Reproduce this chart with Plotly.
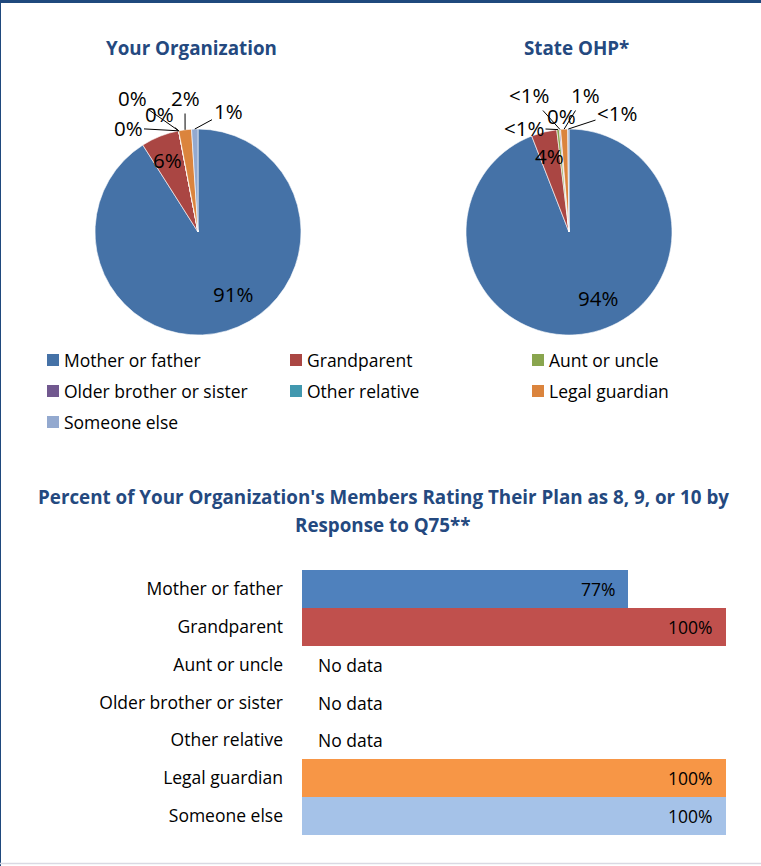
import math
import plotly.graph_objects as go

W, H = 761, 866

# ---- data -------------------------------------------------------------
categories = ["Mother or father", "Grandparent", "Aunt or uncle",
              "Older brother or sister", "Other relative", "Legal guardian",
              "Someone else"]
org_share = [91, 6, 0, 0, 0, 2, 1]                      # Your Organization (%)
state_share = [94.1, 4.0, 0.4, 0.2, 0.0, 1.1, 0.2]      # State OHP (%)
rating_pct = [77, 100, None, None, None, 100, 100]      # % rating 8, 9 or 10

pie_titles = ["Your Organization", "State OHP*"]
bar_title_lines = ["Percent of Your Organization's Members Rating Their Plan as 8, 9, or 10 by",
                   "Response to Q75**"]

# ---- styling ----------------------------------------------------------
pie_colors = ["#4572A7", "#AA4643", "#89A54E", "#71588F", "#4198AF", "#DB843D", "#93A9CF"]
bar_colors = ["#4F81BD", "#C0504D", "#9BBB59", "#8064A2", "#4BACC6", "#F79646", "#A5C2E8"]
title_color = "#24497F"
FONT = "Open Sans"
BODY = 17.5
PIE_LABEL = 20.5
TITLE = 18.8

# pie geometry in pixels: centre x, centre y, radius
pie_geom = [(198, 232, 103), (569, 232, 103)]
pie_title_x = [192, 576]
# text positions of the small-slice labels (pixels), None = inside label
outside_pos = [
    [None, None, (128, 128), (132, 98), (159, 114), (185, 98), (228, 111)],
    [None, None, (524, 128), (529, 95), (561, 116), (585, 95), (617, 113)],
]
inside_nudge = [[(14, -9), (-3, -3)], [(15, -7), (-2, -4)]]

bar_left, bar_right = 302, 726
bar_top, bar_bottom = 570, 835


def px(x):
    return x / W


def py(y):
    return 1 - y / H


def pct_label(v):
    if v == 0:
        return "0%"
    if v < 1:
        return "<1%"
    return f"{round(v)}%"


def text_ann(x, y, text, size, color="black", xanchor="center", **kw):
    return dict(x=x, y=y, xref=kw.pop("xref", "paper"), yref=kw.pop("yref", "paper"),
                xanchor=xanchor, yanchor="middle", text=text, showarrow=False,
                font=dict(family=FONT, size=size, color=color), **kw)


fig = go.Figure()
annotations = []
shapes = []

for k, shares in enumerate([org_share, state_share]):
    cx, cy, r = pie_geom[k]
    fig.add_trace(go.Pie(
        labels=categories, values=shares, sort=False, direction="clockwise",
        rotation=0, textinfo="none", hoverinfo="label+percent",
        marker=dict(colors=pie_colors, line=dict(color="white", width=0.6)),
        domain=dict(x=[px(cx - r), px(cx + r)], y=[py(cy + r), py(cy - r)]),
        showlegend=False,
    ))
    total = sum(shares)
    start = 0.0
    for i, v in enumerate(shares):
        span = 360.0 * v / total
        mid = math.radians(start + span / 2)
        start += span
        pos = outside_pos[k][i]
        if pos is None:
            nx, ny = inside_nudge[k][i]
            tx = cx + 0.72 * r * math.sin(mid) + nx
            ty = cy - 0.72 * r * math.cos(mid) + ny
            annotations.append(text_ann(px(tx), py(ty), pct_label(v), PIE_LABEL))
        else:
            ex = cx + r * math.sin(mid)
            ey = cy - r * math.cos(mid)
            annotations.append(dict(
                x=px(ex), y=py(ey), xref="paper", yref="paper", text=pct_label(v),
                xanchor="center", yanchor="middle",
                showarrow=True, arrowhead=0, arrowwidth=1, arrowcolor="black",
                ax=pos[0] - ex, ay=pos[1] - ey, standoff=0, startstandoff=0,
                font=dict(family=FONT, size=PIE_LABEL, color="black")))
    annotations.append(text_ann(px(pie_title_x[k]), py(48),
                                f"<b>{pie_titles[k]}</b>", TITLE, title_color))

# legend grid for the pie slices
leg_cols = [47, 290, 532]
leg_rows = [360, 391, 422]
for i, name in enumerate(categories):
    x0 = leg_cols[i % 3]
    y0 = leg_rows[i // 3]
    shapes.append(dict(type="rect", xref="paper", yref="paper",
                       x0=px(x0), x1=px(x0 + 12), y0=py(y0 + 6), y1=py(y0 - 6),
                       fillcolor=pie_colors[i], line=dict(width=0)))
    annotations.append(text_ann(px(x0 + 15), py(y0), name, BODY, xanchor="left"))

# horizontal bars
fig.add_trace(go.Bar(
    y=categories, x=[v if v is not None else 0 for v in rating_pct],
    orientation="h", marker=dict(color=bar_colors, line=dict(width=0)),
    xaxis="x", yaxis="y", showlegend=False, hoverinfo="y+x",
))
for name, v in zip(categories, rating_pct):
    if v is None:
        annotations.append(text_ann(0, name, "No data", BODY, xanchor="left",
                                    xref="x", yref="y", xshift=14))
    else:
        annotations.append(text_ann(v, name, f"{v}%", BODY, xanchor="right",
                                    xref="x", yref="y", xshift=-11))

for j, line in enumerate(bar_title_lines):
    annotations.append(text_ann(px(383), py(497 + 28 * j), f"<b>{line}</b>",
                                TITLE, title_color))

# frame lines
shapes += [
    dict(type="rect", xref="paper", yref="paper", x0=0, x1=1, y0=py(3), y1=1,
         fillcolor="#1F497D", line=dict(width=0)),
    dict(type="line", xref="paper", yref="paper", x0=px(0.5), x1=px(0.5), y0=0, y1=1,
         line=dict(color="#1F497D", width=1)),
    dict(type="line", xref="paper", yref="paper", x0=0, x1=1, y0=py(863.5), y1=py(863.5),
         line=dict(color="#D9D9E3", width=1.5)),
]

fig.update_layout(
    width=W, height=H, margin=dict(l=0, r=0, t=0, b=0),
    paper_bgcolor="white", plot_bgcolor="white",
    bargap=0,
    xaxis=dict(domain=[px(bar_left), px(bar_right)], range=[0, 100], visible=False,
               fixedrange=True),
    yaxis=dict(domain=[py(bar_bottom), py(bar_top)], autorange="reversed",
               categoryorder="array", categoryarray=categories,
               showgrid=False, zeroline=False, showline=False, ticks="",
               ticklabelstandoff=18,
               tickfont=dict(family=FONT, size=BODY, color="black")),
    annotations=annotations, shapes=shapes,
)

fig.write_html("out.html")
